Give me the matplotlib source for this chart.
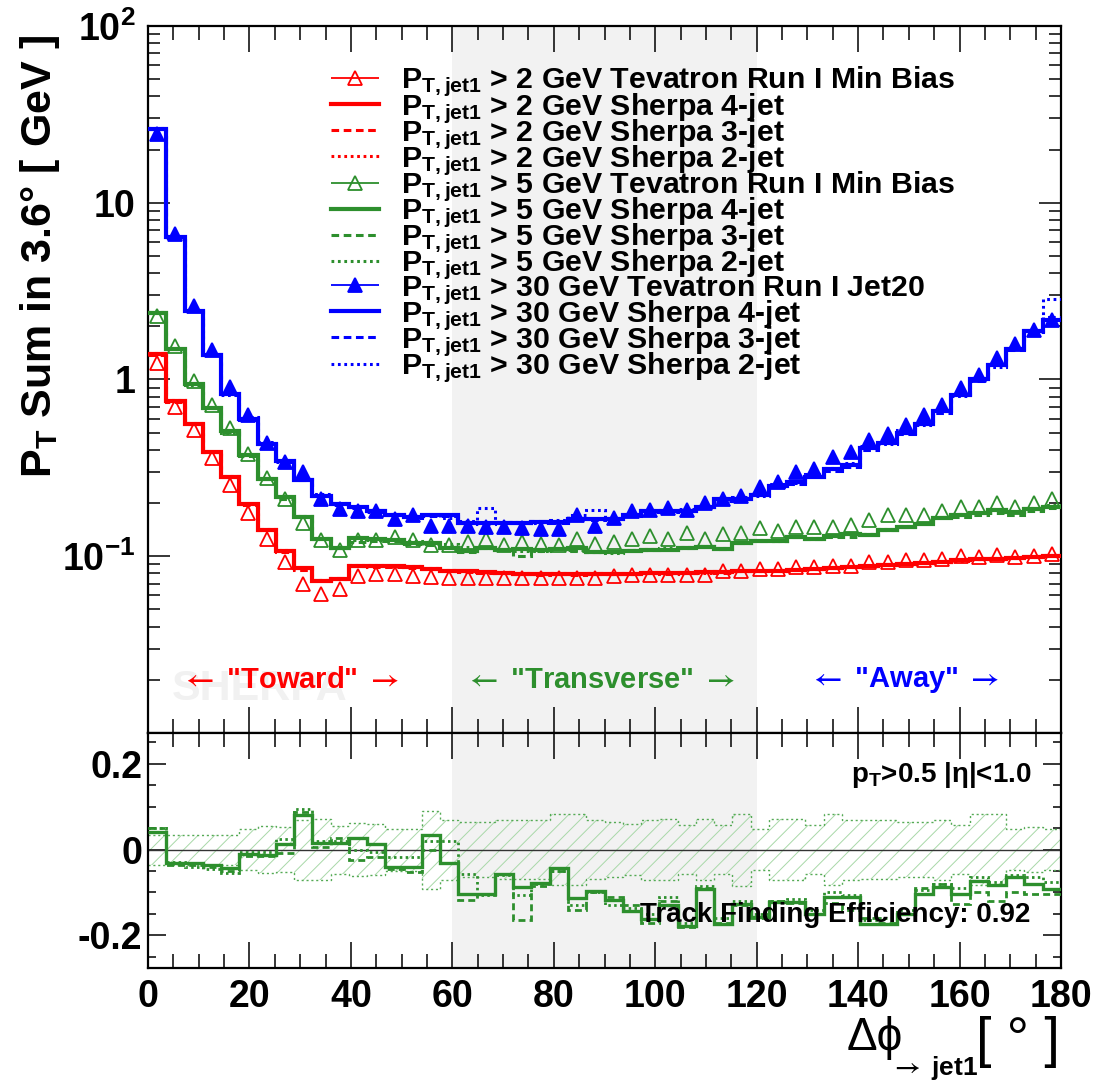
import numpy as np
import matplotlib.pyplot as plt
from matplotlib.ticker import MultipleLocator, LogLocator, FuncFormatter, NullFormatter
from matplotlib.container import ErrorbarContainer
from matplotlib.legend_handler import HandlerErrorbar

plt.rcParams['font.family'] = 'Liberation Sans'
plt.rcParams['font.weight'] = 'bold'
plt.rcParams['axes.labelweight'] = 'bold'
plt.rcParams['mathtext.fontset'] = 'custom'
plt.rcParams['mathtext.rm'] = 'Liberation Sans'
plt.rcParams['mathtext.it'] = 'Liberation Sans:italic'
plt.rcParams['mathtext.bf'] = 'Liberation Sans:bold'
plt.rcParams['hatch.linewidth'] = 0.7

# binning: 50 bins of 3.6 degrees
bin_width = 3.6
n_bins = 50

# pT > 2 GeV (min bias)
red_data = [1.24, 0.70, 0.52, 0.36, 0.253, 0.176, 0.125, 0.093, 0.0697, 0.0611,
            0.065, 0.0776, 0.079, 0.079, 0.0776, 0.076, 0.0753, 0.0753, 0.0753, 0.0753,
            0.0753, 0.0753, 0.0753, 0.0753, 0.0753, 0.077, 0.0786, 0.0786, 0.0786, 0.0786,
            0.0786, 0.082, 0.082, 0.0848, 0.0848, 0.0866, 0.0866, 0.0886, 0.0886, 0.0925,
            0.093, 0.095, 0.095, 0.096, 0.100, 0.099, 0.1017, 0.0995, 0.100, 0.103]
red_mc4 = [1.40, 0.76, 0.56, 0.39, 0.28, 0.197, 0.14, 0.107, 0.0853, 0.0725,
           0.0745, 0.0886, 0.0886, 0.088, 0.087, 0.085, 0.083, 0.082, 0.081, 0.080,
           0.079, 0.079, 0.079, 0.079, 0.079, 0.079, 0.079, 0.080, 0.080, 0.080,
           0.081, 0.081, 0.082, 0.083, 0.083, 0.084, 0.085, 0.086, 0.087, 0.088,
           0.089, 0.090, 0.092, 0.093, 0.095, 0.096, 0.097, 0.098, 0.099, 0.100]
red_mc3 = [1.38, 0.75, 0.56, 0.39, 0.28, 0.195, 0.14, 0.106, 0.084, 0.073,
           0.075, 0.088, 0.087, 0.087, 0.086, 0.085, 0.083, 0.081, 0.080, 0.080,
           0.079, 0.078, 0.079, 0.078, 0.079, 0.079, 0.080, 0.080, 0.079, 0.080,
           0.081, 0.080, 0.082, 0.082, 0.084, 0.084, 0.085, 0.087, 0.087, 0.088,
           0.090, 0.090, 0.091, 0.094, 0.095, 0.096, 0.098, 0.098, 0.100, 0.101]
red_mc2 = [1.42, 0.77, 0.57, 0.39, 0.285, 0.198, 0.142, 0.108, 0.086, 0.073,
           0.074, 0.089, 0.089, 0.088, 0.088, 0.086, 0.084, 0.082, 0.081, 0.081,
           0.080, 0.079, 0.080, 0.079, 0.080, 0.079, 0.079, 0.081, 0.080, 0.081,
           0.080, 0.082, 0.082, 0.083, 0.083, 0.085, 0.085, 0.086, 0.088, 0.088,
           0.089, 0.091, 0.092, 0.093, 0.094, 0.097, 0.097, 0.099, 0.099, 0.102]

# pT > 5 GeV (min bias); MC given as (MC - data) / data
green_data = [2.28, 1.54, 0.974, 0.72, 0.53, 0.377, 0.277, 0.212, 0.155, 0.124,
              0.109, 0.123, 0.124, 0.128, 0.124, 0.115, 0.115, 0.12, 0.125, 0.115,
              0.12, 0.117, 0.115, 0.125, 0.117, 0.12, 0.125, 0.13, 0.125, 0.136,
              0.125, 0.133, 0.136, 0.145, 0.139, 0.147, 0.147, 0.147, 0.15, 0.16,
              0.17, 0.172, 0.17, 0.18, 0.19, 0.19, 0.2, 0.19, 0.2, 0.21]
green_r4 = [0.041, -0.031, -0.032, -0.037, -0.042, -0.011, -0.012, 0.014, 0.080, 0.015,
            0.015, 0.026, 0.014, -0.040, -0.040, 0.033, -0.032, -0.103, -0.104, -0.056,
            -0.087, -0.079, -0.044, -0.114, -0.096, -0.118, -0.142, -0.161, -0.130, -0.177,
            -0.093, -0.173, -0.126, -0.157, -0.123, -0.123, -0.149, -0.111, -0.111, -0.173,
            -0.173, -0.149, -0.103, -0.087, -0.103, -0.073, -0.083, -0.064, -0.080, -0.091]
green_r3 = [0.050, -0.037, -0.035, -0.040, -0.050, -0.015, -0.015, -0.008, 0.087, 0.006,
            0.026, -0.025, -0.017, -0.045, -0.052, 0.000, -0.032, -0.117, -0.104, -0.056,
            -0.165, -0.085, -0.050, -0.140, -0.100, -0.110, -0.130, -0.170, -0.120, -0.180,
            -0.090, -0.170, -0.130, -0.160, -0.120, -0.125, -0.150, -0.125, -0.140, -0.160,
            -0.170, -0.150, -0.090, -0.080, -0.126, -0.100, -0.120, -0.100, -0.103, -0.103]
green_r2 = [0.050, -0.030, -0.040, -0.045, -0.055, -0.005, -0.005, 0.025, 0.094, 0.020,
            0.020, 0.000, -0.005, -0.017, -0.017, 0.020, 0.020, -0.056, -0.107, -0.060,
            -0.107, -0.080, -0.050, -0.130, -0.100, -0.130, -0.135, -0.150, -0.110, -0.170,
            -0.085, -0.160, -0.120, -0.150, -0.120, -0.115, -0.140, -0.100, -0.105, -0.165,
            -0.160, -0.140, -0.095, -0.080, -0.090, -0.065, -0.075, -0.060, -0.065, -0.075]
green_band = [0.035, 0.035, 0.035, 0.035, 0.035, 0.048, 0.055, 0.052, 0.070, 0.072,
              0.056, 0.062, 0.060, 0.049, 0.049, 0.091, 0.070, 0.065, 0.065, 0.068,
              0.068, 0.068, 0.083, 0.083, 0.068, 0.065, 0.060, 0.070, 0.072, 0.058,
              0.072, 0.058, 0.084, 0.047, 0.072, 0.072, 0.058, 0.083, 0.070, 0.068,
              0.068, 0.064, 0.064, 0.070, 0.058, 0.082, 0.082, 0.047, 0.052, 0.047]

# pT > 30 GeV (Jet20)
blue_data = [24.5, 6.64, 2.60, 1.47, 0.91, 0.63, 0.435, 0.342, 0.30, 0.212,
             0.186, 0.18, 0.18, 0.163, 0.172, 0.148, 0.149, 0.148, 0.147, 0.147,
             0.145, 0.143, 0.143, 0.17, 0.149, 0.165, 0.18, 0.182, 0.187, 0.182,
             0.2, 0.21, 0.218, 0.246, 0.263, 0.30, 0.31, 0.365, 0.39, 0.454,
             0.49, 0.552, 0.63, 0.718, 0.893, 1.06, 1.32, 1.58, 1.9, 2.18]
blue_mc4 = [26.2, 6.36, 2.45, 1.38, 0.83, 0.60, 0.43, 0.346, 0.27, 0.22,
            0.197, 0.19, 0.18, 0.172, 0.167, 0.17, 0.17, 0.155, 0.155, 0.155,
            0.155, 0.157, 0.157, 0.163, 0.163, 0.163, 0.17, 0.18, 0.18, 0.18,
            0.19, 0.21, 0.21, 0.221, 0.25, 0.263, 0.28, 0.31, 0.33, 0.41,
            0.435, 0.50, 0.56, 0.66, 0.82, 1.0, 1.2, 1.49, 1.87, 2.18]
blue_mc3 = [26.0, 6.4, 2.43, 1.40, 0.84, 0.59, 0.43, 0.35, 0.27, 0.22,
            0.195, 0.19, 0.182, 0.17, 0.165, 0.168, 0.168, 0.157, 0.153, 0.156,
            0.154, 0.158, 0.155, 0.165, 0.16, 0.165, 0.172, 0.178, 0.18, 0.182,
            0.19, 0.20, 0.21, 0.225, 0.245, 0.255, 0.285, 0.305, 0.32, 0.40,
            0.44, 0.49, 0.57, 0.65, 0.83, 0.98, 1.22, 1.47, 1.9, 2.25]
blue_mc2 = [26.5, 6.3, 2.47, 1.37, 0.82, 0.61, 0.44, 0.34, 0.275, 0.225,
            0.20, 0.188, 0.178, 0.173, 0.168, 0.172, 0.165, 0.158, 0.187, 0.157,
            0.157, 0.155, 0.16, 0.17, 0.182, 0.165, 0.168, 0.182, 0.178, 0.185,
            0.19, 0.205, 0.215, 0.22, 0.255, 0.26, 0.29, 0.315, 0.335, 0.42,
            0.43, 0.52, 0.55, 0.67, 0.81, 1.02, 1.18, 1.5, 1.85, 2.85]

red = '#ff0000'
green = '#2d8f2d'
blue = '#0000ff'
dashed = (0, (2.5, 1.5))
dotted = (0, (0.9, 1.2))

edges = np.arange(n_bins + 1) * bin_width
centers = edges[:-1] + bin_width / 2

green_mc4 = np.array(green_data) * (1 + np.array(green_r4))
green_mc3 = np.array(green_data) * (1 + np.array(green_r3))
green_mc2 = np.array(green_data) * (1 + np.array(green_r2))

fig = plt.figure(figsize=(10.97, 10.87), dpi=100)
ax = fig.add_axes([0.1349, 0.3257, 0.8323, 0.6504])
axr = fig.add_axes([0.1349, 0.1099, 0.8323, 0.2158], sharex=ax)

for a in (ax, axr):
    a.axvspan(60, 120, color='#f2f2f2', zorder=0, lw=0)

groups = [
    ('2', red, red_data, red_mc4, red_mc3, red_mc2, False, 'Tevatron Run I Min Bias'),
    ('5', green, green_data, green_mc4, green_mc3, green_mc2, False, 'Tevatron Run I Min Bias'),
    ('30', blue, blue_data, blue_mc4, blue_mc3, blue_mc2, True, 'Tevatron Run I Jet20'),
]

handles = []
labels = []
for cut, col, data, mc4, mc3, mc2, filled, dname in groups:
    pre = r'$\mathbf{P_{T,jet1}}$ > ' + cut + ' GeV '
    s4 = ax.stairs(mc4, edges, baseline=None, color=col, lw=3.0, zorder=3)
    s3 = ax.stairs(mc3, edges, baseline=None, color=col, lw=2.2, linestyle=dashed, zorder=3)
    s2 = ax.stairs(mc2, edges, baseline=None, color=col, lw=2.2, linestyle=dotted, zorder=3)
    ax.plot(centers, data, ls='none', marker='^', ms=9.5, mew=1.3, mec=col,
            mfc=col if filled else 'none', zorder=4)
    eb = ax.errorbar([], [], xerr=[], fmt='^', ms=9.5, mew=1.3, mec=col,
                     mfc=col if filled else 'none', ecolor=col, elinewidth=1.3,
                     capsize=6, capthick=1.3)
    handles += [eb, s4, s3, s2]
    labels += [pre + dname, pre + 'Sherpa 4-jet', pre + 'Sherpa 3-jet', pre + 'Sherpa 2-jet']

ax.legend(handles, labels, loc='upper left', bbox_to_anchor=(0.20, 0.945),
          frameon=False, fontsize=21.8, handlelength=1.6, handletextpad=0.72,
          labelspacing=-0.28, borderpad=0, borderaxespad=0,
          handler_map={ErrorbarContainer: HandlerErrorbar(xerr_size=0.8)})

ax.set_yscale('log')
ax.set_xlim(0, 180)
ax.set_ylim(0.01, 100)

# region labels
xt = ax.get_xaxis_transform()
ax.text(22, 0.062, 'SHERPA', transform=xt, fontsize=31, color='#f1f1f1',
        ha='center', va='center', zorder=0.5)
region_labels = [(28, 'Toward', red), (89, 'Transverse', green), (149, 'Away', blue)]
for xc, name, col in region_labels:
    ax.text(xc, 0.075, r'$\leftarrow$ "' + name + r'" $\rightarrow$', transform=xt,
            color=col, fontsize=21, ha='center', va='center', math_fontfamily='stix')

# ratio panel
band_hi = np.array(green_band)
band_lo = -band_hi
axr.stairs(band_hi, edges, baseline=band_lo, fill=True, facecolor='none',
           edgecolor='#a8d8a8', hatch='//', lw=0, zorder=1)
axr.stairs(band_hi, edges, baseline=None, color='#55aa55', lw=1.0, linestyle=(0, (1.5, 2)), zorder=2)
axr.stairs(band_lo, edges, baseline=None, color='#55aa55', lw=1.0, linestyle=(0, (1.5, 2)), zorder=2)
axr.axhline(0, color='#333333', lw=1.0, zorder=2)
axr.stairs(green_r4, edges, baseline=None, color=green, lw=2.4, zorder=3)
axr.stairs(green_r3, edges, baseline=None, color=green, lw=2.0, linestyle=dashed, zorder=3)
axr.stairs(green_r2, edges, baseline=None, color=green, lw=2.0, linestyle=dotted, zorder=3)
axr.set_ylim(-0.275, 0.272)

axr.text(0.968, 0.82, r'$\mathbf{p_{T}}$>0.5 |$\mathrm{\eta}$|<1.0', transform=axr.transAxes,
         fontsize=20, ha='right', va='center', zorder=5)
axr.text(0.966, 0.225, 'Track Finding Efficiency: 0.92', transform=axr.transAxes,
         fontsize=20, ha='right', va='center', zorder=5)

# ticks
for a in (ax, axr):
    a.xaxis.set_major_locator(MultipleLocator(20))
    a.xaxis.set_minor_locator(MultipleLocator(5))
    a.tick_params(which='both', direction='in', top=True, right=True, width=1.1)
    a.tick_params(axis='x', which='major', length=19)
    a.tick_params(axis='x', which='minor', length=10)
    for s in a.spines.values():
        s.set_linewidth(1.6)

ax.yaxis.set_major_locator(LogLocator(base=10, numticks=10))
ax.yaxis.set_minor_locator(LogLocator(base=10, subs=np.arange(2, 10), numticks=20))
ax.yaxis.set_minor_formatter(NullFormatter())


def log_label(v, pos):
    e = int(round(np.log10(v)))
    names = {2: r'$\mathbf{10^{2}}$', 1: '10', 0: '1', -1: r'$\mathbf{10^{-1}}$'}
    return names.get(e, '')


ax.yaxis.set_major_formatter(FuncFormatter(log_label))
ax.tick_params(axis='y', which='major', length=16, labelsize=27, pad=9)
ax.tick_params(axis='y', which='minor', length=8.5)
ax.tick_params(axis='x', labelbottom=False)

axr.yaxis.set_major_locator(MultipleLocator(0.2))
axr.yaxis.set_minor_locator(MultipleLocator(0.05))
axr.yaxis.set_major_formatter(FuncFormatter(lambda v, p: f'{v:g}' if abs(v) > 1e-9 else '0'))
axr.tick_params(axis='y', which='major', length=13, labelsize=27, pad=4)
axr.tick_params(axis='y', which='minor', length=6)
axr.tick_params(axis='x', labelsize=27, pad=8)

ax.set_ylabel(r'$\mathbf{P_{T}}$ Sum in 3.6° [ GeV ]', fontsize=31, fontweight='bold')
ax.yaxis.set_label_coords(-0.094, 0.674)

fig.text(875 / 1097, 1 - 1038 / 1087, 'Δϕ', fontsize=33, fontweight='normal',
         family=['Liberation Sans', 'DejaVu Sans'], ha='center', va='center')
fig.text(934 / 1097, 1 - 1068 / 1087, r'$\rightarrow$ jet1', fontsize=19,
         ha='center', va='center', math_fontfamily='stix')
fig.text(1018 / 1097, 1 - 1042 / 1087, '[ ° ]', fontsize=40, fontweight='normal',
         ha='center', va='center')

fig.savefig('out.png', dpi=100)
